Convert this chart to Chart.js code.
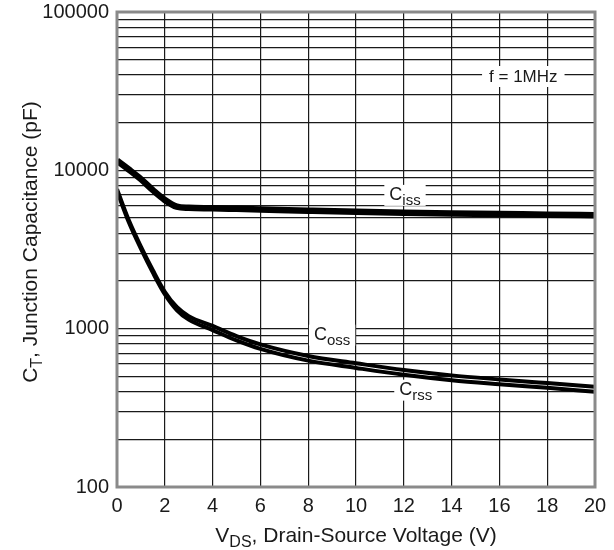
<!DOCTYPE html>
<html>
<head>
<meta charset="utf-8">
<script src="https://cdn.jsdelivr.net/npm/chart.js@4.4.1/dist/chart.umd.min.js"></script>
<style>
  html, body { margin: 0; padding: 0; background: #fff; }
  #wrap { width: 614px; height: 550px; }
</style>
</head>
<body>
<div id="wrap"><canvas id="cap"></canvas></div>
<script>
// values
const vds = [0, 0.5, 1, 1.5, 2, 2.5, 3, 4, 5, 6, 8, 10, 12, 14, 16, 18, 20];
const ciss = [11500, 10100, 8800, 7500, 6500, 5900, 5800, 5760, 5710, 5660, 5560, 5470, 5400, 5340, 5290, 5250, 5200];
const coss = [7600, 4820, 3300, 2340, 1710, 1370, 1200, 1040, 897, 795, 672, 605, 548, 507, 478, 453, 430];
const crss = [7400, 4680, 3200, 2260, 1650, 1310, 1140, 980, 843, 745, 628, 565, 512, 473, 446, 423, 400];
const yDecades = [100, 1000, 10000, 100000];
const xTicks = [0, 2, 4, 6, 8, 10, 12, 14, 16, 18, 20];

// curve labels: [main, sub, x value, y value]
const curveLabels = [
  ['C', 'iss', 12.05, 7100],
  ['C', 'oss', 9.0, 930],
  ['C', 'rss', 12.5, 418]
];
const freqNote = ['f = 1MHz', 17, 40000];

const FONT = '"Liberation Sans", Arial, sans-serif';

function toXY(arr) {
  return vds.map((v, i) => ({ x: v, y: arr[i] }));
}

// all 1..9 x 10^n lines for the log grid
function logTicks() {
  const t = [];
  for (let d = 100; d < 100000; d *= 10) {
    for (let m = 1; m < 10; m++) t.push(d * m);
  }
  t.push(100000);
  return t;
}

function drawSubText(ctx, main, sub, cx, cy, mainSize, subSize, box) {
  ctx.font = mainSize + 'px ' + FONT;
  const w1 = ctx.measureText(main).width;
  ctx.font = subSize + 'px ' + FONT;
  const w2 = sub ? ctx.measureText(sub).width : 0;
  const w = w1 + w2;
  const x0 = cx - w / 2;
  if (box) {
    ctx.fillStyle = '#fff';
    ctx.fillRect(x0 - box, cy - 9, w + box * 2, 21);
  }
  ctx.fillStyle = '#1a1a1a';
  ctx.textBaseline = 'alphabetic';
  ctx.textAlign = 'left';
  ctx.font = mainSize + 'px ' + FONT;
  ctx.fillText(main, x0, cy + 6.5);
  if (sub) {
    ctx.font = subSize + 'px ' + FONT;
    ctx.fillText(sub, x0 + w1, cy + 11.5);
  }
}

const decor = {
  id: 'decor',
  beforeDatasetsDraw(chart) {
    const { ctx, scales } = chart;
    ctx.save();
    // curve labels sit on white boxes that break the grid
    curveLabels.forEach(l => {
      const px = scales.x.getPixelForValue(l[2]);
      const py = scales.y.getPixelForValue(l[3]);
      drawSubText(ctx, l[0], l[1], px, py, 18, 15, 5);
    });
    drawSubText(ctx, freqNote[0], '', scales.x.getPixelForValue(freqNote[1]),
      scales.y.getPixelForValue(freqNote[2]), 17, 15, 7);
    ctx.restore();
  },
  afterDraw(chart) {
    const { ctx, chartArea: a } = chart;
    ctx.save();
    // frame
    ctx.strokeStyle = '#8a8a8a';
    ctx.lineWidth = 3;
    ctx.strokeRect(a.left, a.top, a.right - a.left, a.bottom - a.top);

    // axis titles
    ctx.fillStyle = '#1a1a1a';
    ctx.font = '21px ' + FONT;
    const xt1 = 'V', xt2 = 'DS', xt3 = ', Drain-Source Voltage (V)';
    const w1 = ctx.measureText(xt1).width;
    const w3 = ctx.measureText(xt3).width;
    ctx.font = '16px ' + FONT;
    const w2 = ctx.measureText(xt2).width;
    let x0 = (a.left + a.right) / 2 - (w1 + w2 + w3) / 2;
    const by = 542;
    ctx.textAlign = 'left';
    ctx.font = '21px ' + FONT;
    ctx.fillText(xt1, x0, by);
    ctx.font = '16px ' + FONT;
    ctx.fillText(xt2, x0 + w1, by + 5);
    ctx.font = '21px ' + FONT;
    ctx.fillText(xt3, x0 + w1 + w2, by);

    ctx.translate(37, 242);
    ctx.rotate(-Math.PI / 2);
    const yt1 = 'C', yt2 = 'T', yt3 = ', Junction Capacitance (pF)';
    ctx.font = '21px ' + FONT;
    const v1 = ctx.measureText(yt1).width;
    const v3 = ctx.measureText(yt3).width;
    ctx.font = '16px ' + FONT;
    const v2 = ctx.measureText(yt2).width;
    x0 = -(v1 + v2 + v3) / 2;
    ctx.font = '21px ' + FONT;
    ctx.fillText(yt1, x0, 0);
    ctx.font = '16px ' + FONT;
    ctx.fillText(yt2, x0 + v1, 5);
    ctx.font = '21px ' + FONT;
    ctx.fillText(yt3, x0 + v1 + v2, 0);
    ctx.restore();
  }
};

const line = (data, w) => ({
  data: toXY(data),
  borderColor: '#000',
  borderWidth: w,
  pointRadius: 0,
  fill: false,
  cubicInterpolationMode: 'monotone',
  borderCapStyle: 'butt'
});

new Chart(document.getElementById('cap'), {
  type: 'line',
  data: {
    datasets: [line(ciss, 6.5), line(coss, 4), line(crss, 4)]
  },
  options: {
    responsive: true,
    maintainAspectRatio: false,
    animation: false,
    layout: { padding: { left: 0, right: 19, top: 12, bottom: 0 } },
    plugins: { legend: { display: false }, tooltip: { enabled: false } },
    scales: {
      x: {
        type: 'linear',
        min: 0, max: 20,
        afterBuildTicks: s => { s.ticks = xTicks.map(v => ({ value: v })); },
        afterFit: s => { s.height = 63; s.paddingLeft = 0; s.paddingRight = 0; },
        grid: { color: '#1a1a1a', lineWidth: 1.2, drawTicks: false },
        border: { display: false },
        ticks: { color: '#1a1a1a', font: { family: FONT, size: 20 }, padding: 7, maxRotation: 0 }
      },
      y: {
        type: 'logarithmic',
        min: 100, max: 100000,
        afterBuildTicks: s => { s.ticks = logTicks().map(v => ({ value: v })); },
        afterFit: s => { s.width = 117; s.paddingTop = 0; s.paddingBottom = 0; },
        grid: { color: '#1a1a1a', lineWidth: 1.2, drawTicks: false },
        border: { display: false },
        ticks: {
          color: '#1a1a1a',
          font: { family: FONT, size: 20 },
          padding: 8,
          autoSkip: false,
          callback: v => yDecades.includes(v) ? String(v) : ''
        }
      }
    }
  },
  plugins: [decor]
});
</script>
</body>
</html>
